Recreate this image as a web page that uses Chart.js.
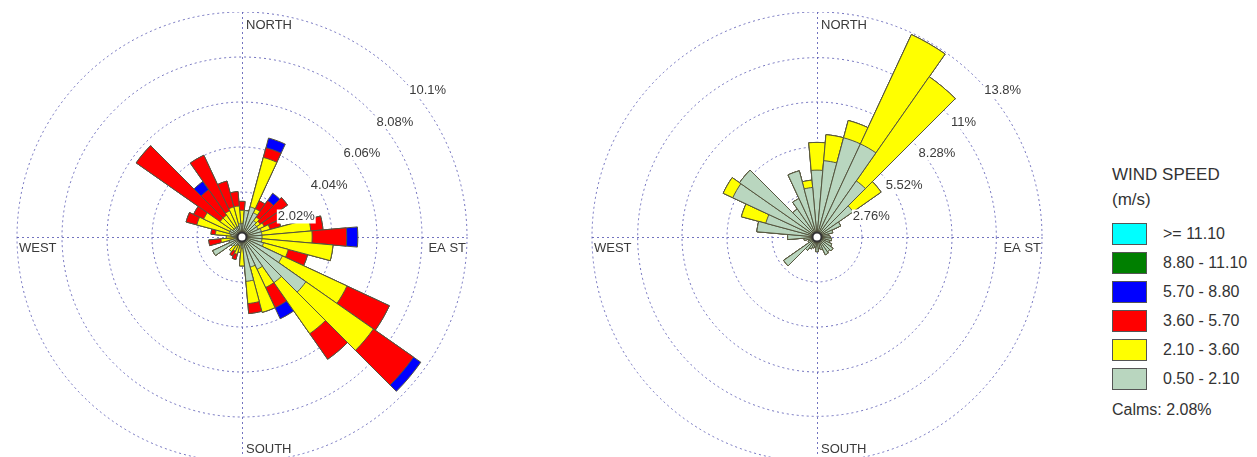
<!DOCTYPE html>
<html>
<head>
<meta charset="utf-8">
<script src="https://cdn.jsdelivr.net/npm/chart.js@4.4.1/dist/chart.umd.min.js"></script>
<style>
  body { margin: 0; background: #fff; width: 1257px; height: 457px; overflow: hidden; position: relative;
         font-family: "Liberation Sans", Arial, sans-serif; color: #333; }
  canvas { position: absolute; top: 12px; }
  #roseA { left: 2px; }
  #roseB { left: 577px; }
  #legend div { position: absolute; white-space: nowrap; }
  .ttl { left: 1112px; font-size: 17px; line-height: 20px; }
  .box { left: 1112px; width: 33px; height: 20px; border: 1px solid #555; }
  .lbl { left: 1163px; font-size: 16px; line-height: 22px; }
</style>
</head>
<body>
<canvas id="roseA" width="480" height="450"></canvas>
<canvas id="roseB" width="480" height="450"></canvas>
<div id="legend"></div>
<script>
// 36 sectors, 10 degrees each, starting at north and going clockwise
const directions = [];
for (let d = 0; d < 360; d += 10) directions.push(d + "°");

// wind speed classes (m/s), legend order top to bottom
const speedClasses = [">= 11.10", "8.80 - 11.10", "5.70 - 8.80", "3.60 - 5.70", "2.10 - 3.60", "0.50 - 2.10"];
const classColors = ["#00FFFF", "#007F00", "#0000FF", "#FF0000", "#FFFF00", "#B9D6BF"];
const calms = "Calms: 2.08%";

// left rose: frequency (%) of each class per sector
const leftCalm  = [0.6,1.2,1.4,1.2,0.9,0.8,0.8,0.9,0.9,0.9,0.9,1.0,2.0,3.5,2.5,1.6,1.4,2.0,
                   0.5,0.4,0.4,0.4,0.5,0.6,1.45,0.6,0.3,0.4,0.5,0.6,0.6,0.5,0.5,0.5,0.5,0.6];
const leftLow   = [0.6,0,2.3,0.2,0.2,0.2,0.3,0.4,2.2,2.25,3.2,1.15,3.2,3.7,2.8,0.9,2.1,1.0,
                   0.8,0.3,0.4,0.3,0.3,0,0,0,0.65,0.3,0.7,1.5,1.3,0.7,0.7,0.8,0.9,0.8];
const leftMid   = [0.4,0,0.45,0.4,0.9,1.5,0.8,0.5,0.55,1.55,0,0.9,2.1,2.2,1.4,1.0,0,0.45,
                   0,0,0.25,0.25,0,0,0,0,0.55,0,0.2,0.5,0.5,4.6,1.4,2.75,1.2,0.65];
const leftHigh  = [0,0,0.45,0,0.4,0,0,0,0,0.5,0,0,0,0.4,0,0.55,0,0,
                   0,0,0,0,0,0,0,0,0,0,0,0,0,0,0.45,0,0,0];
const leftRings = [0, 2.02, 4.04, 6.06, 8.08, 10.1];

// right rose
const rightCalm = [4.1,4.7,6.3,6.3,4.2,2.7,1.6,1.0,0.7,0.8,0.9,0.8,1.0,1.2,1.1,1.2,0.8,0.7,
                   0.9,0.6,0.7,0.8,1.0,2.5,0.6,0.5,0.8,1.8,3.7,3.25,5.7,5.8,2.1,2.6,4.2,3.05];
const rightLow  = [1.7,1.6,1.1,7.4,7.8,2.1,0,0,0,0,0,0,0,0,0,0,0,0,
                   0,0,0,0,0,0,0,0,0,0,0,1.55,0.65,0,0,0,0,0.45];
const rightMid  = new Array(36).fill(0);
const rightHigh = new Array(36).fill(0);
const rightRings = [0, 2.76, 5.52, 8.28, 11, 13.8];

const ringLabel = ["", "2.02%", "4.04%", "6.06%", "8.08%", "10.1%"];
const ringLabelB = ["", "2.76%", "5.52%", "8.28%", "11%", "13.8%"];

const gridColor = "rgba(80,80,175,0.8)";
const textColor = "#3a3a3a";

// stacked sums, innermost class first so it gets drawn on top
function stackSets(classes) {
  const cols = [classColors[5], classColors[4], classColors[3], classColors[2]];
  const sets = [];
  let run = new Array(36).fill(0);
  classes.forEach((arr, i) => {
    run = run.map((v, k) => +(v + arr[k]).toFixed(3));
    sets.push({ data: run.slice(), backgroundColor: cols[i], borderColor: "#55553f", borderWidth: 1 });
  });
  return sets;
}

const roseDecor = {
  id: "roseDecor",
  beforeDatasetsDraw(chart) {
    const s = chart.scales.r, ctx = chart.ctx;
    const cx = s.xCenter, cy = s.yCenter, R = s.drawingArea;
    ctx.save();
    ctx.strokeStyle = gridColor;
    ctx.lineWidth = 1;
    ctx.setLineDash([2, 3]);
    ctx.beginPath();
    ctx.moveTo(cx - R, cy + 0.5); ctx.lineTo(cx + R, cy + 0.5);
    ctx.moveTo(cx + 0.5, cy - R); ctx.lineTo(cx + 0.5, cy + R);
    ctx.stroke();
    ctx.restore();
  },
  afterDatasetsDraw(chart, args, opts) {
    const s = chart.scales.r, ctx = chart.ctx;
    const cx = s.xCenter, cy = s.yCenter, R = s.drawingArea;
    ctx.save();
    // calm circle
    ctx.beginPath();
    ctx.arc(cx, cy, 4.5, 0, Math.PI * 2);
    ctx.fillStyle = "#fff";
    ctx.fill();
    ctx.lineWidth = 2;
    ctx.strokeStyle = "#333";
    ctx.stroke();
    // ring labels
    ctx.font = "13px 'Liberation Sans', Arial";
    ctx.textBaseline = "middle";
    ctx.textAlign = "left";
    opts.rings.forEach((v, k) => {
      if (!k) return;
      const r = s.getDistanceFromCenterForValue(v);
      const x = cx + 3 + 0.73 * r, y = cy + 11 - 0.70 * r;
      const w = ctx.measureText(opts.labels[k]).width;
      ctx.fillStyle = "#fff";
      ctx.fillRect(x - 1, y - 7, w + 2, 14);
      ctx.fillStyle = textColor;
      ctx.fillText(opts.labels[k], x, y);
    });
    // compass words
    ctx.font = "13px 'Liberation Sans', Arial";
    ctx.fillStyle = textColor;
    ctx.fillText("NORTH", cx + 4, cy - R + 13);
    ctx.fillText("SOUTH", cx + 4, cy + R - 13);
    ctx.fillText("WEST", cx - R + 2, cy + 11);
    ctx.textAlign = "right";
    ctx.fillText("EA ST", cx + R - 1, cy + 11);
    ctx.restore();
  }
};

function makeRose(id, classes, rings, labels) {
  return new Chart(document.getElementById(id), {
    type: "polarArea",
    data: { labels: directions, datasets: stackSets(classes) },
    options: {
      responsive: false,
      animation: false,
      plugins: {
        legend: { display: false },
        tooltip: { enabled: false },
        roseDecor: { rings: rings, labels: labels }
      },
      scales: {
        r: {
          min: 0,
          max: rings[rings.length - 1],
          startAngle: -5,
          afterBuildTicks: (sc) => { sc.ticks = rings.map(v => ({ value: v })); },
          ticks: { display: false },
          grid: { circular: true, color: gridColor, lineWidth: 1 },
          border: { dash: [2, 3] },
          angleLines: { display: false },
          pointLabels: { display: false }
        }
      }
    },
    plugins: [roseDecor]
  });
}

makeRose("roseA", [leftCalm, leftLow, leftMid, leftHigh], leftRings, ringLabel);
makeRose("roseB", [rightCalm, rightLow, rightMid, rightHigh], rightRings, ringLabelB);

// legend
const lg = document.getElementById("legend");
let html = '<div class="ttl" style="top:165px">WIND SPEED</div><div class="ttl" style="top:190px">(m/s)</div>';
speedClasses.forEach((c, i) => {
  const top = 223 + 29 * i;
  html += '<div class="box" style="top:' + top + 'px;background:' + classColors[i] + '"></div>';
  html += '<div class="lbl" style="top:' + top + 'px">' + c.replace(">", "&gt;") + '</div>';
});
html += '<div class="lbl" style="left:1112px;top:399px">' + calms + '</div>';
lg.innerHTML = html;
</script>
</body>
</html>
